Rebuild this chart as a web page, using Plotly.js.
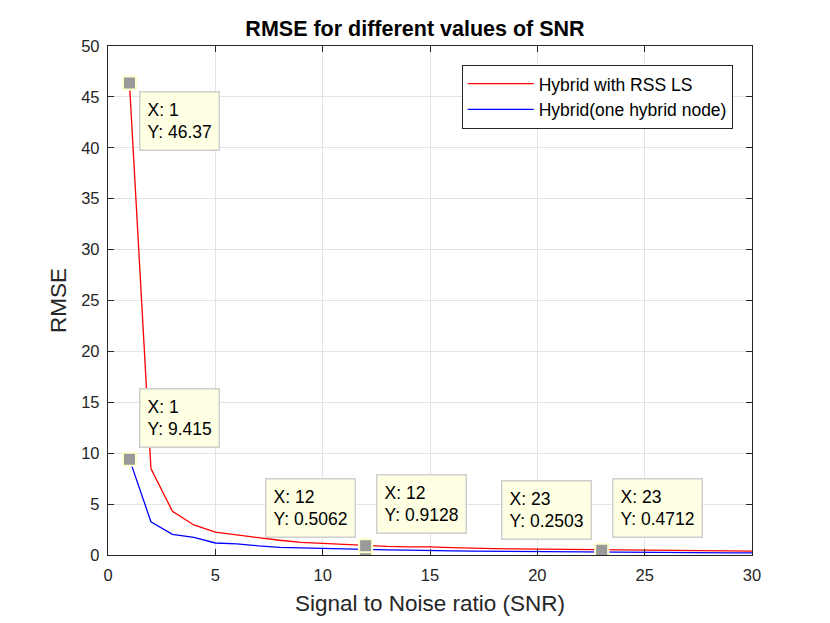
<!DOCTYPE html>
<html>
<head>
<meta charset="utf-8">
<script src="https://cdn.plot.ly/plotly-3.0.1.min.js"></script>
<style>
  body { margin: 0; background: #fff; }
  #chart { width: 830px; height: 623px; }
</style>
</head>
<body>
<div id="chart"></div>
<script>
// SNR values and RMSE
var snr = [1, 2, 3, 4, 5, 6, 7, 8, 9, 10, 11, 12, 13, 14, 15, 16, 17, 18, 19, 20, 21, 22, 23, 24, 25, 26, 27, 28, 29, 30];
var rmseRssLs = [46.37, 8.5, 4.3, 2.95, 2.25, 1.95, 1.7, 1.45, 1.25, 1.15, 1.05, 0.9128, 0.85, 0.8, 0.8, 0.72, 0.65, 0.62, 0.6, 0.58, 0.55, 0.52, 0.4712, 0.46, 0.45, 0.44, 0.42, 0.41, 0.4, 0.38];
var rmseOneNode = [9.415, 3.27, 2.03, 1.74, 1.18, 1.1, 0.9, 0.75, 0.7, 0.65, 0.6, 0.5062, 0.5, 0.48, 0.42, 0.4, 0.38, 0.36, 0.35, 0.33, 0.3, 0.28, 0.2503, 0.25, 0.24, 0.23, 0.22, 0.21, 0.2, 0.2];

// data tips: which series, which x, and where the box sits
var tipSeries = ['one', 'red', 'one', 'red', 'one', 'red'];
var tipX = [1, 1, 12, 12, 23, 23];
var tipSide = ['up', 'down', 'left', 'right', 'left', 'right'];

var font = 'Liberation Sans, Arial, Helvetica, sans-serif';

var trace1 = {
  x: snr, y: rmseRssLs, type: 'scatter', mode: 'lines',
  name: 'Hybrid with RSS LS',
  line: {color: '#ff0000', width: 1.3}
};
var trace2 = {
  x: snr, y: rmseOneNode, type: 'scatter', mode: 'lines',
  name: 'Hybrid(one hybrid node)',
  line: {color: '#0000ff', width: 1.3}
};

var tipXs = [], tipYs = [], annotations = [];
for (var i = 0; i < tipX.length; i++) {
  var src = tipSeries[i] == 'red' ? rmseRssLs : rmseOneNode;
  var yv = src[snr.indexOf(tipX[i])];
  tipXs.push(tipX[i]); tipYs.push(yv);
  var a = {
    x: tipX[i], y: yv, xref: 'x', yref: 'y', showarrow: false,
    text: 'X: ' + tipX[i] + '<br>Y: ' + yv,
    align: 'left',
    font: {family: font, size: 17.5, color: '#000'},
    bgcolor: '#ffffe4', bordercolor: '#cfcfcf', borderwidth: 1.5, borderpad: 7
  };
  if (tipSide[i] == 'down') { a.xanchor = 'left'; a.yanchor = 'top'; a.xshift = 10; a.yshift = -8; }
  if (tipSide[i] == 'up') { a.xanchor = 'left'; a.yanchor = 'bottom'; a.xshift = 10; a.yshift = 11; }
  if (tipSide[i] == 'left') { a.xanchor = 'right'; a.yanchor = 'bottom'; a.xshift = -10; a.yshift = 12; }
  if (tipSide[i] == 'right') { a.xanchor = 'left'; a.yanchor = 'bottom'; a.xshift = 10; a.yshift = 12; }
  annotations.push(a);
}

var tipMarks = {
  x: tipXs, y: tipYs, type: 'scatter', mode: 'markers', showlegend: false,
  hoverinfo: 'skip',
  marker: {symbol: 'square', size: 13, color: '#999999', line: {color: '#ffffd0', width: 2}}
};

var layout = {
  width: 830, height: 623,
  margin: {l: 108, r: 78, t: 46, b: 68},
  paper_bgcolor: '#ffffff', plot_bgcolor: '#ffffff',
  font: {family: font, color: '#262626'},
  title: {text: '<b>RMSE for different values of SNR</b>', x: 0.5, xanchor: 'center', y: 0.955, yanchor: 'middle',
    font: {family: font, size: 21.5, color: '#000'}},
  xaxis: {
    range: [0, 30], dtick: 5, tick0: 0, ticks: 'inside', ticklen: 6, tickcolor: '#262626',
    showline: true, linecolor: '#262626', linewidth: 1.2, mirror: 'ticks',
    showgrid: true, gridcolor: '#e3e3e3', gridwidth: 1, zeroline: false,
    tickfont: {size: 16.5, color: '#262626'}, ticklabelstandoff: 5,
    title: {text: 'Signal to Noise ratio (SNR)', standoff: 12, font: {size: 22.5, color: '#262626'}}
  },
  yaxis: {
    range: [0, 50], dtick: 5, tick0: 0, ticks: 'inside', ticklen: 6, tickcolor: '#262626',
    showline: true, linecolor: '#262626', linewidth: 1.2, mirror: 'ticks',
    showgrid: true, gridcolor: '#e3e3e3', gridwidth: 1, zeroline: false,
    tickfont: {size: 16.5, color: '#262626'}, ticklabelstandoff: 4,
    title: {text: 'RMSE', standoff: 8, font: {size: 22.5, color: '#262626'}}
  },
  legend: {
    x: 0.970, y: 0.963, xanchor: 'right', yanchor: 'top',
    bgcolor: '#ffffff', bordercolor: '#262626', borderwidth: 1,
    font: {size: 17.5, color: '#000'}, tracegroupgap: 0, itemwidth: 66
  },
  annotations: annotations,
  showlegend: true
};

Plotly.newPlot('chart', [trace1, trace2, tipMarks], layout, {displayModeBar: false, staticPlot: true});
</script>
</body>
</html>
